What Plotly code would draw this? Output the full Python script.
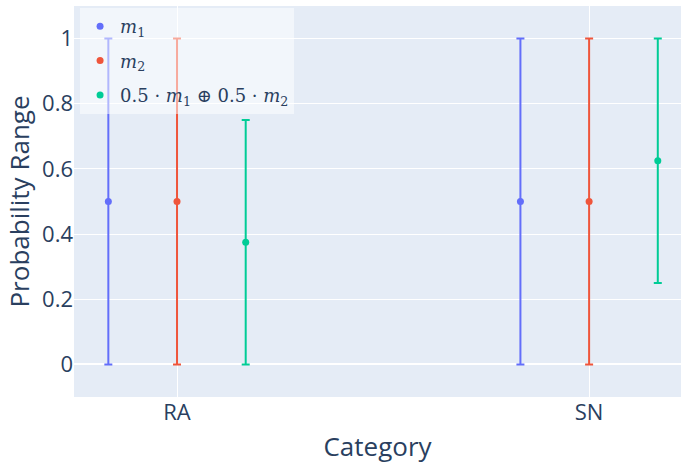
import plotly.graph_objects as go

categories = ["RA", "SN"]

series_names = [
    "<i>m</i><sub>1</sub>",
    "<i>m</i><sub>2</sub>",
    "0.5 · <i>m</i><sub>1</sub> ⊕ 0.5 · <i>m</i><sub>2</sub>",
]
series_lower = [
    [0.0, 0.0],
    [0.0, 0.0],
    [0.0, 0.25],
]
series_upper = [
    [1.0, 1.0],
    [1.0, 1.0],
    [0.75, 1.0],
]
series_colors = ["#636efa", "#EF553B", "#00cc96"]

fig = go.Figure()
for i, (name, lo, hi, col) in enumerate(zip(series_names, series_lower, series_upper, series_colors)):
    mid = [(a + b) / 2 for a, b in zip(lo, hi)]
    fig.add_trace(go.Scatter(
        x=categories,
        y=mid,
        mode="markers",
        name=name,
        legendgroup=f"g{i}",
        marker=dict(color=col, size=7),
        error_y=dict(
            type="data",
            symmetric=False,
            array=[h - m for h, m in zip(hi, mid)],
            arrayminus=[m - l for l, m in zip(lo, mid)],
            color=col,
            thickness=2,
            width=4,
        ),
    ))

fig.update_layout(
    width=681,
    height=468,
    template="plotly",
    scattermode="group",
    scattergap=0.5,
    margin=dict(l=74, r=0, t=6, b=71),
    font=dict(family="Open Sans", size=22, color="#2a3f5f"),
    legend=dict(
        x=0.01, y=0.995, xanchor="left", yanchor="top",
        bgcolor="rgba(255,255,255,0.5)",
        font=dict(family="DejaVu Serif", size=18, color="#2a3f5f"),
        tracegroupgap=8,
    ),
    xaxis=dict(
        title=dict(text="Category", font=dict(size=26), standoff=12),
        range=[-0.25, 1.223],
    ),
    yaxis=dict(
        title=dict(text="Probability Range", font=dict(size=26), standoff=4),
        range=[-0.1, 1.1],
        tickvals=[0, 0.2, 0.4, 0.6, 0.8, 1],
        ticktext=["0", "0.2", "0.4", "0.6", "0.8", "1"],
    ),
)

fig.write_html("out.html")
